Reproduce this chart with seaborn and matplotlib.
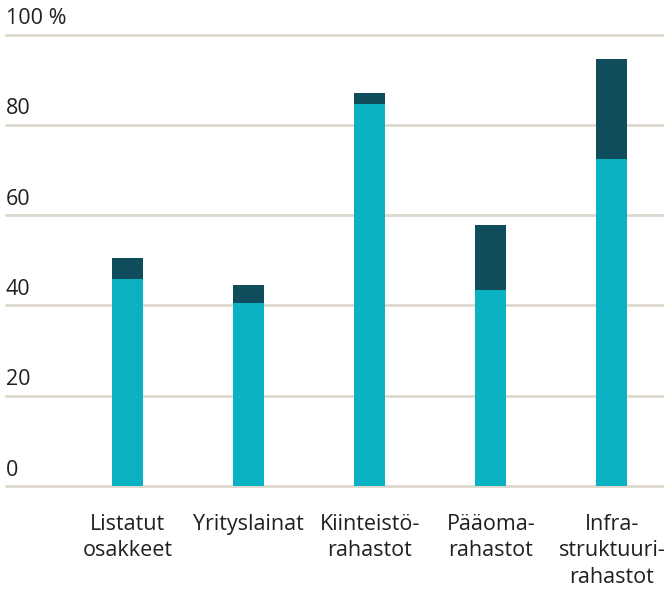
import matplotlib

matplotlib.use("Agg")

import pandas as pd
import seaborn as sns
from matplotlib import pyplot as plt
from matplotlib import font_manager

categories = [
    "Listatut\nosakkeet",
    "Yrityslainat",
    "Kiinteistö-\nrahastot",
    "Pääoma-\nrahastot",
    "Infra-\nstruktuuri-\nrahastot",
]
base_values = [45.8, 40.5, 84.6, 43.4, 72.4]
total_values = [50.5, 44.5, 87.0, 57.8, 94.6]
y_ticks = [0, 20, 40, 60, 80, 100]
y_tick_labels = ["0", "20", "40", "60", "80", "100 %"]

LIGHT = "#0AB1C2"
DARK = "#0F4C5C"
GRID = "#DDD8CD"
TEXT = "#231F20"

sns.set_theme(style="white")
names = {f.name for f in font_manager.fontManager.ttflist}
family = [f for f in ["Liberation Sans Narrow", "Open Sans", "DejaVu Sans"] if f in names]
plt.rcParams["font.family"] = family

df = pd.DataFrame({"category": categories, "base": base_values, "total": total_values})

fig = plt.figure(figsize=(6.64, 5.94), dpi=100)
ax = fig.add_axes([6 / 664, 1 - 486 / 594, 1 - 6 / 664, (486 - 34.5) / 594])

sns.barplot(data=df, x="category", y="total", color=DARK, width=0.256,
            saturation=1, linewidth=0, ax=ax, zorder=3)
sns.barplot(data=df, x="category", y="base", color=LIGHT, width=0.256,
            saturation=1, linewidth=0, ax=ax, zorder=4)

ax.set_xlim(-1.004, 4.43)
ax.set_ylim(0, 100)
for t in y_ticks:
    ax.axhline(t, color=GRID, lw=2, zorder=1, clip_on=False)

ax.set_yticks([])
for t, lab in zip(y_ticks, y_tick_labels):
    ax.text(0, t + 1.2, lab, transform=ax.get_yaxis_transform(), ha="left",
            va="bottom", fontsize=15.5, color=TEXT)

ax.set_xlabel("")
ax.set_ylabel("")
ax.tick_params(axis="x", length=0, pad=20, labelsize=15.5, labelcolor=TEXT)
for lab in ax.get_xticklabels():
    lab.set_linespacing(1.35)
sns.despine(ax=ax, left=True, bottom=True)

fig.savefig("out.png", dpi=100)
